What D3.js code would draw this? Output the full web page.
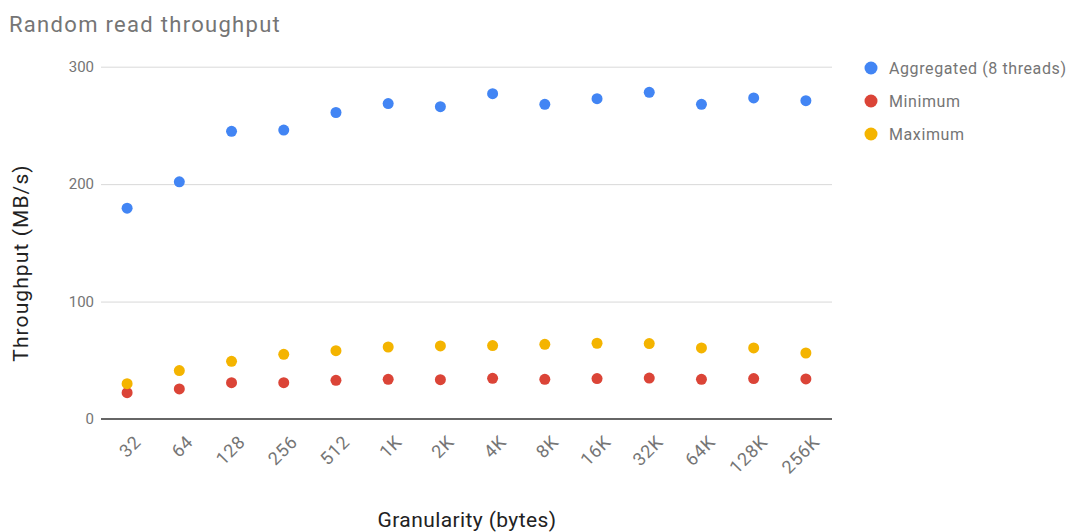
<!DOCTYPE html>
<html>
<head>
<meta charset="utf-8">
<script src="https://cdn.jsdelivr.net/npm/d3@7"></script>
<style>
  html, body { margin: 0; padding: 0; background: #fff; }
  svg { display: block; font-family: Roboto, "Noto Sans", sans-serif; }
</style>
</head>
<body>
<svg id="chart" width="1068" height="532"></svg>
<script>
// Granularity categories (bytes)
const categories = ["32", "64", "128", "256", "512", "1K", "2K", "4K", "8K", "16K", "32K", "64K", "128K", "256K"];

// Throughput in MB/s
const aggregated = [179.5, 202, 245, 246, 261, 268.6, 266, 277, 268, 272.8, 278.2, 268, 273.4, 271.1];
const minimum    = [22.4, 25.6, 30.9, 30.9, 32.9, 33.8, 33.5, 34.6, 33.8, 34.4, 34.9, 33.8, 34.4, 34.1];
const maximum    = [30.1, 41.2, 49.1, 55.1, 58.2, 61.3, 62.2, 62.5, 63.6, 64.5, 64.2, 60.5, 60.5, 56.2];

const yTicks = [0, 100, 200, 300];

const seriesNames  = ["Aggregated (8 threads)", "Minimum", "Maximum"];
const seriesValues = [aggregated, minimum, maximum];
const seriesColors = ["#4285F4", "#DB4437", "#F4B400"];

const svg = d3.select("#chart");
const plot = { left: 101, right: 832, top: 66.7, bottom: 419 };

const x = d3.scaleBand().domain(categories).range([plot.left, plot.right]);
const y = d3.scaleLinear().domain([0, 300]).range([plot.bottom, plot.top]);

// Title
svg.append("text")
  .attr("x", 9).attr("y", 32)
  .attr("fill", "#757575")
  .attr("font-size", 22)
  .attr("letter-spacing", 1.3)
  .text("Random read throughput");

// Horizontal gridlines and y tick labels
const yAxis = d3.axisLeft(y).tickValues(yTicks).tickSize(-(plot.right - plot.left)).tickPadding(7);
const gy = svg.append("g").attr("transform", `translate(${plot.left},0)`).call(yAxis);
gy.select(".domain").remove();
gy.selectAll(".tick line").attr("stroke", "#d9d9d9").attr("stroke-width", 1);
gy.selectAll(".tick text").attr("fill", "#757575").attr("font-size", 15).attr("font-family", "Roboto");
gy.selectAll(".tick").filter(d => d === 0).select("line").remove();

// X axis baseline and rotated category labels
const xAxis = d3.axisBottom(x).tickSize(0).tickPadding(0);
const gx = svg.append("g").attr("transform", `translate(0,${plot.bottom})`).call(xAxis);
gx.select(".domain").attr("stroke", "#333").attr("stroke-width", 1.5).attr("d", `M${plot.left},0H${plot.right}`);
gx.selectAll(".tick text")
  .attr("fill", "#757575")
  .attr("font-size", 18)
  .attr("font-family", "Roboto")
  .attr("letter-spacing", 0.8)
  .attr("text-anchor", "end")
  .attr("dy", null)
  .attr("transform", "translate(15,24) rotate(-45)");

// Axis titles
svg.append("text")
  .attr("transform", `translate(28,263) rotate(-90)`)
  .attr("text-anchor", "middle")
  .attr("fill", "#222")
  .attr("font-size", 21)
  .attr("letter-spacing", 1.1)
  .text("Throughput (MB/s)");

svg.append("text")
  .attr("x", 467).attr("y", 527)
  .attr("text-anchor", "middle")
  .attr("fill", "#222")
  .attr("font-size", 21)
  .attr("letter-spacing", 0.4)
  .text("Granularity (bytes)");

// Points
seriesValues.forEach((vals, i) => {
  svg.append("g").selectAll("circle")
    .data(vals)
    .join("circle")
    .attr("cx", (d, j) => x(categories[j]) + x.bandwidth() / 2)
    .attr("cy", d => y(d))
    .attr("r", 5.5)
    .attr("fill", seriesColors[i]);
});

// Legend
const legend = svg.append("g").selectAll("g")
  .data(seriesNames)
  .join("g")
  .attr("transform", (d, i) => `translate(871,${68 + i * 33})`);
legend.append("circle").attr("r", 6.5).attr("fill", (d, i) => seriesColors[i]);
legend.append("text")
  .attr("x", 18).attr("dy", "0.36em")
  .attr("fill", "#757575")
  .attr("font-size", 16)
  .attr("letter-spacing", 0.6)
  .text(d => d);
</script>
</body>
</html>
